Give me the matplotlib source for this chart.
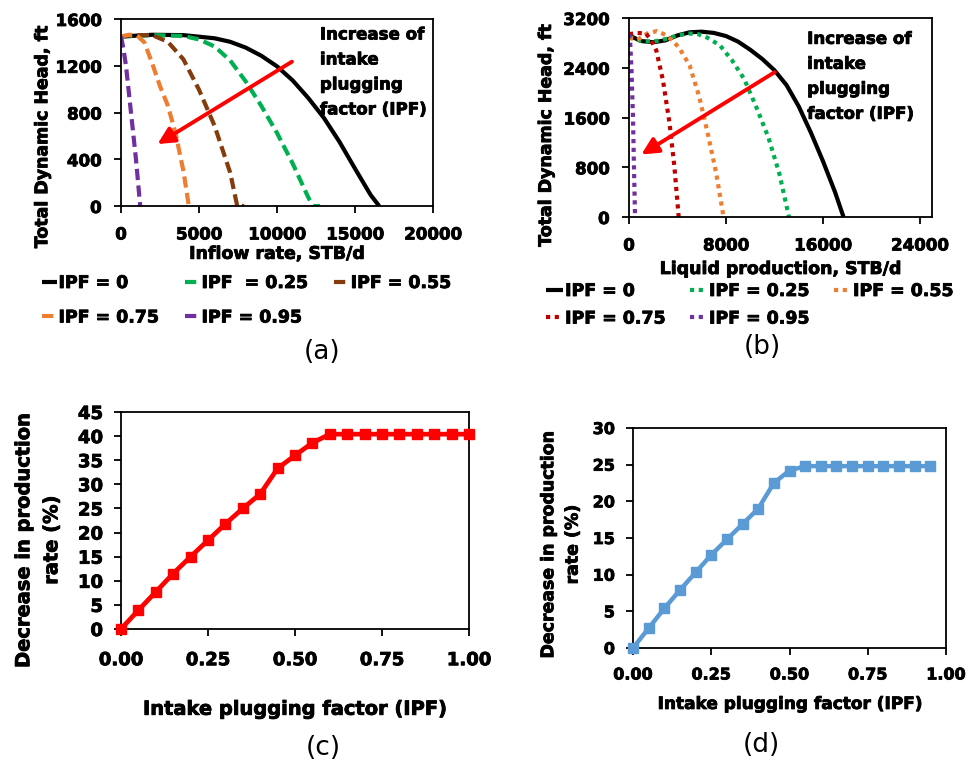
import matplotlib
matplotlib.use("Agg")
import matplotlib.pyplot as plt
import matplotlib.patheffects as pe
from matplotlib.text import Text

plt.rcParams['font.family'] = ['DejaVu Sans']
plt.rcParams['font.weight'] = 'bold'

# ---------------- (a) pump TDH vs inflow rate ----------------
ipf_labels_a = ["IPF = 0", "IPF  = 0.25", "IPF = 0.55", "IPF = 0.75", "IPF = 0.95"]
a_q0 = [0, 2000, 4000, 6000, 7000, 8000, 9000, 10000, 11000, 12000, 13000, 14000, 15000, 16000, 16550]
a_h0 = [1450, 1465, 1462, 1435, 1405, 1355, 1285, 1195, 1075, 925, 755, 550, 320, 95, 0]
a_q25 = [0, 2000, 4000, 5000, 6000, 7000, 8000, 9000, 10000, 11000, 12000, 12300, 12750]
a_h25 = [1450, 1462, 1455, 1425, 1365, 1245, 1065, 855, 625, 365, 75, 0, 0]
a_q55 = [0, 1000, 2000, 3000, 4000, 5000, 6000, 7000, 7450, 7900]
a_h55 = [1450, 1462, 1462, 1405, 1255, 995, 685, 285, 0, 0]
a_q75 = [0, 500, 1000, 1500, 2000, 2500, 3000, 3500, 4000, 4350]
a_h75 = [1450, 1465, 1462, 1400, 1220, 1025, 860, 620, 300, 0]
a_q95 = [0, 150, 320, 640, 960, 1230]
a_h95 = [1450, 1350, 1200, 800, 400, 0]

# ---------------- (b) pump TDH vs liquid production ----------------
ipf_labels_b = ["IPF = 0", "IPF = 0.25", "IPF = 0.55", "IPF = 0.75", "IPF = 0.95"]
b_q0 = [0, 1000, 2000, 3000, 4000, 5000, 6000, 7000, 8000, 9000, 10000, 11000,
        12000, 13000, 14000, 15000, 16000, 17000, 17700]
b_h0 = [2920, 2830, 2810, 2840, 2920, 2970, 2980, 2960, 2910, 2820, 2690, 2540,
        2360, 2120, 1780, 1360, 900, 400, 0]
b_q25 = [0, 1000, 2000, 3000, 4000, 5000, 5700, 6500, 7500, 8500, 9500, 10500, 11500, 12400, 13200]
b_h25 = [2900, 2830, 2820, 2860, 2920, 2950, 2940, 2880, 2760, 2520, 2220, 1770, 1280, 700, 0]
b_q55 = [0, 700, 1500, 2300, 3000, 3700, 4200, 5000, 5800, 6500, 7200, 7800]
b_h55 = [2880, 2850, 2950, 2990, 2930, 2820, 2700, 2440, 1930, 1340, 700, 0]
b_q75 = [0, 700, 1400, 1800, 2250, 2800, 3350, 3750, 4100]
b_h75 = [2940, 2960, 2950, 2850, 2680, 2200, 1500, 800, 0]
b_q95 = [0, 100, 200, 330, 410, 500]
b_h95 = [2940, 2800, 2400, 1600, 800, 0]

# ---------------- (c), (d) decrease in production rate ----------------
ipf_c = [0.00, 0.05, 0.10, 0.15, 0.20, 0.25, 0.30, 0.35, 0.40, 0.45, 0.50,
         0.55, 0.60, 0.65, 0.70, 0.75, 0.80, 0.85, 0.90, 0.95, 1.00]
dec_c = [0.0, 3.9, 7.7, 11.5, 15.0, 18.4, 21.8, 25.0, 28.0, 33.3, 36.0,
         38.6, 40.4, 40.4, 40.4, 40.4, 40.4, 40.4, 40.4, 40.4, 40.4]
ipf_d = [0.00, 0.05, 0.10, 0.15, 0.20, 0.25, 0.30, 0.35, 0.40, 0.45,
         0.50, 0.55, 0.60, 0.65, 0.70, 0.75, 0.80, 0.85, 0.90, 0.95]
dec_d = [0.0, 2.7, 5.4, 7.9, 10.3, 12.7, 14.8, 16.9, 19.0, 22.5,
         24.2, 24.8, 24.8, 24.8, 24.8, 24.8, 24.8, 24.8, 24.8, 24.8]

BLACK = "#000000"
GREEN = "#00B050"
BROWN = "#843C0C"
ORANGE = "#ED7D31"
PURPLE = "#7030A0"
DARKRED = "#C00000"
RED = "#FF0000"
BLUE = "#5B9BD5"

W, H = 978, 762
fig = plt.figure(figsize=(W / 100, H / 100), dpi=100)


def box(l, t, r, b):
    return [l / W, 1 - b / H, (r - l) / W, (b - t) / H]


def style_axes(ax, tick_fs, xpad, ypad):
    for s in ax.spines.values():
        s.set_color("black")
        s.set_linewidth(1.3)
    ax.tick_params(axis="both", direction="out", length=5, width=1.3,
                   labelsize=tick_fs, color="black")
    ax.tick_params(axis="x", pad=xpad)
    ax.tick_params(axis="y", pad=ypad)
    for lab in ax.get_xticklabels() + ax.get_yticklabels():
        lab.set_fontweight("bold")


DASH = (0, (2.7, 1.3))
DOT = (0, (1.0, 1.1))
LW = 3.0
ARROW = dict(arrowstyle="-|>,head_length=1.0,head_width=0.5",
             color=RED, lw=2.8, shrinkA=0, shrinkB=0)

# (a)
ax_a = fig.add_axes(box(121, 19, 433, 206))
la = []
la.append(ax_a.plot(a_q0, a_h0, color=BLACK, lw=LW, solid_capstyle="butt")[0])
la.append(ax_a.plot(a_q25, a_h25, color=GREEN, lw=LW, ls=DASH)[0])
la.append(ax_a.plot(a_q55, a_h55, color=BROWN, lw=LW, ls=DASH)[0])
la.append(ax_a.plot(a_q75, a_h75, color=ORANGE, lw=LW, ls=DASH)[0])
la.append(ax_a.plot(a_q95, a_h95, color=PURPLE, lw=LW, ls=DASH)[0])
ax_a.set_xlim(0, 20000)
ax_a.set_ylim(0, 1600)
ax_a.set_xticks([0, 5000, 10000, 15000, 20000])
ax_a.set_yticks([0, 400, 800, 1200, 1600])
style_axes(ax_a, 12, 9, 9)
ax_a.set_xlabel("Inflow rate, STB/d", fontsize=12.5, fontweight="bold", labelpad=1)
ax_a.set_ylabel("Total Dynamic Head, ft", fontsize=12.5, fontweight="bold", labelpad=3,
                y=0.37)
ax_a.annotate("", xy=(2340, 530), xytext=(10960, 1235), arrowprops=ARROW)
ax_a.text(12750, 1545, "Increase of\nintake\nplugging\nfactor (IPF)", fontsize=12,
          fontweight="bold", va="top", ha="left", linespacing=1.5)

# (b)
ax_b = fig.add_axes(box(629, 18, 932, 217))
lb = []
lb.append(ax_b.plot(b_q0, b_h0, color=BLACK, lw=LW, solid_capstyle="butt")[0])
lb.append(ax_b.plot(b_q25, b_h25, color=GREEN, lw=LW, ls=DOT)[0])
lb.append(ax_b.plot(b_q55, b_h55, color=ORANGE, lw=LW, ls=DOT)[0])
lb.append(ax_b.plot(b_q75, b_h75, color=DARKRED, lw=LW, ls=DOT)[0])
lb.append(ax_b.plot(b_q95, b_h95, color=PURPLE, lw=LW, ls=DOT)[0])
ax_b.set_xlim(0, 25000)
ax_b.set_ylim(0, 3200)
ax_b.set_xticks([0, 8000, 16000, 24000])
ax_b.set_yticks([0, 800, 1600, 2400, 3200])
style_axes(ax_b, 12, 9, 9)
ax_b.set_xlabel("Liquid production, STB/d", fontsize=12.5, fontweight="bold", labelpad=4)
ax_b.set_ylabel("Total Dynamic Head, ft", fontsize=12.5, fontweight="bold", labelpad=6,
                y=0.41)
ax_b.annotate("", xy=(1020, 1005), xytext=(12030, 2330), arrowprops=ARROW)
ax_b.text(14700, 3010, "Increase of\nintake\nplugging\nfactor (IPF)", fontsize=12,
          fontweight="bold", va="top", ha="left", linespacing=1.5)

# legends, filled row by row
order = [0, 3, 1, 4, 2]
fig.legend([la[i] for i in order], [ipf_labels_a[i] for i in order],
           loc="upper left", bbox_to_anchor=(42 / W, 1 - 274 / H), ncol=3,
           frameon=False, handlelength=0.85, handletextpad=0.1, columnspacing=1.5,
           labelspacing=0.95, prop=dict(size=12.5, weight="bold"), borderaxespad=0,
           borderpad=0)
fig.legend([lb[i] for i in order], [ipf_labels_b[i] for i in order],
           loc="upper left", bbox_to_anchor=(546 / W, 1 - 282 / H), ncol=3,
           frameon=False, handlelength=1.0, handletextpad=0.1, columnspacing=1.4,
           labelspacing=0.55, prop=dict(size=12.5, weight="bold"), borderaxespad=0,
           borderpad=0)

# (c)
ax_c = fig.add_axes(box(121, 412, 469, 629))
ax_c.plot(ipf_c, dec_c, color=RED, lw=3.4, marker="s", ms=7, clip_on=False, zorder=3)
ax_c.set_xlim(0, 1.0)
ax_c.set_ylim(0, 45)
ax_c.set_xticks([0, 0.25, 0.5, 0.75, 1.0])
ax_c.set_xticklabels(["0.00", "0.25", "0.50", "0.75", "1.00"])
ax_c.set_yticks(range(0, 46, 5))
style_axes(ax_c, 13, 11, 8)
ax_c.set_xlabel("Intake plugging factor (IPF)", fontsize=14, fontweight="bold", labelpad=22)
ax_c.set_ylabel("Decrease in production\nrate (%)", fontsize=14, fontweight="bold",
                labelpad=12, y=0.41, linespacing=1.6)

# (d)
ax_d = fig.add_axes(box(633, 428, 946, 648))
ax_d.plot(ipf_d, dec_d, color=BLUE, lw=3.2, marker="s", ms=6.5, clip_on=False, zorder=3)
ax_d.set_xlim(0, 1.0)
ax_d.set_ylim(0, 30)
ax_d.set_xticks([0, 0.25, 0.5, 0.75, 1.0])
ax_d.set_xticklabels(["0.00", "0.25", "0.50", "0.75", "1.00"])
ax_d.set_yticks(range(0, 31, 5))
style_axes(ax_d, 11.5, 9, 8)
ax_d.set_xlabel("Intake plugging factor (IPF)", fontsize=12.2, fontweight="bold", labelpad=9)
ax_d.set_ylabel("Decrease in production\nrate (%)", fontsize=12.5, fontweight="bold",
                labelpad=8, y=0.47, linespacing=1.45)

# panel tags
for tag, x, y in [("(a)", 322, 352), ("(b)", 762, 347), ("(c)", 323, 748), ("(d)", 761, 745)]:
    fig.text(x / W, 1 - y / H, tag, fontsize=19, fontweight="normal",
             ha="center", va="center")

# heavier strokes for the bold captions
for t in fig.findobj(Text):
    if t.get_fontweight() == "bold" and t.get_text():
        t.set_path_effects([pe.withStroke(linewidth=0.6, foreground="black")])

fig.savefig("out.png", dpi=100)
